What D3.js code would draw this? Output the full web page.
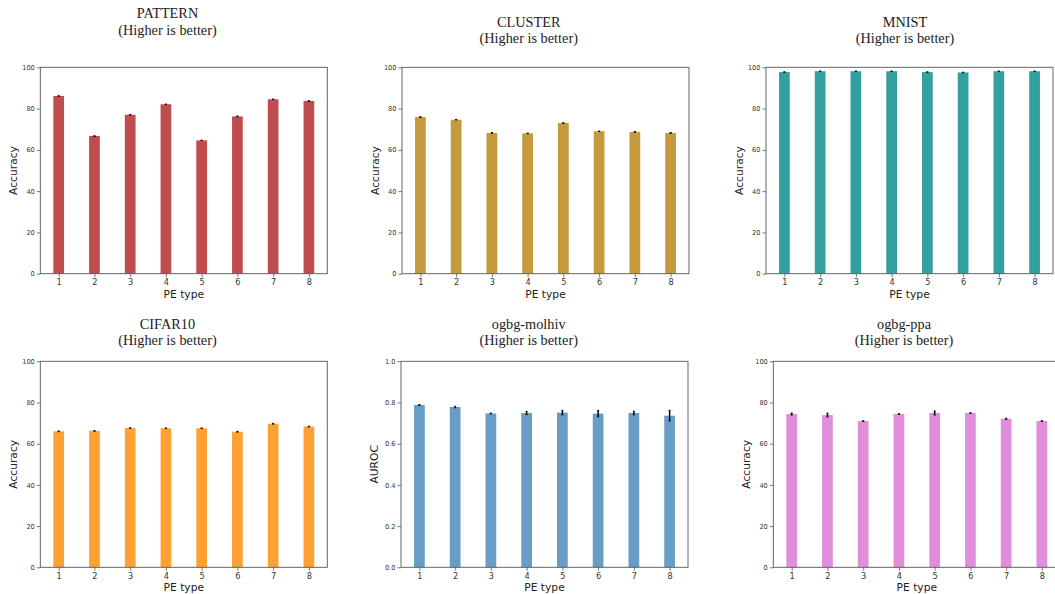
<!DOCTYPE html>
<html>
<head>
<meta charset="utf-8">
<script src="https://cdn.jsdelivr.net/npm/d3@7"></script>
<style>
  html, body { margin: 0; padding: 0; background: #fff; }
  svg { display: block; }
</style>
</head>
<body>
<svg id="chart" width="1055" height="594"></svg>
<script>
// Positional-encoding ablation: mean score (with std) per PE type, one panel per dataset.
const peTypes = [1, 2, 3, 4, 5, 6, 7, 8];

const patternMean = [86.1, 66.7, 77.0, 82.1, 64.6, 76.2, 84.5, 83.7];
const patternStd  = [0.15, 0.2, 0.15, 0.1, 0.1, 0.2, 0.15, 0.15];

const clusterMean = [75.9, 74.6, 68.2, 68.0, 73.0, 69.0, 68.7, 68.2];
const clusterStd  = [0.2, 0.15, 0.2, 0.15, 0.2, 0.1, 0.2, 0.2];

const mnistMean = [97.7, 98.1, 98.1, 98.1, 97.7, 97.5, 98.1, 98.1];
const mnistStd  = [0.15, 0.1, 0.1, 0.1, 0.15, 0.15, 0.1, 0.1];

const cifarMean = [66.0, 66.2, 67.6, 67.5, 67.5, 65.8, 69.7, 68.3];
const cifarStd  = [0.2, 0.2, 0.15, 0.15, 0.15, 0.2, 0.2, 0.2];

const molhivMean = [0.788, 0.778, 0.747, 0.749, 0.751, 0.746, 0.749, 0.736];
const molhivStd  = [0.002, 0.004, 0.002, 0.008, 0.011, 0.015, 0.009, 0.026];

const ppaMean = [74.4, 73.9, 71.0, 74.4, 74.9, 74.9, 72.1, 71.0];
const ppaStd  = [0.5, 0.9, 0.2, 0.2, 1.0, 0.15, 0.3, 0.2];

const accTicks = [0, 20, 40, 60, 80, 100];
const aucTicks = [0.0, 0.2, 0.4, 0.6, 0.8, 1.0];

// Panel layout: axes box, colours and title placement.
const panels = [
  { name: "PATTERN", mean: patternMean, std: patternStd, color: "#c04d4e", ylabel: "Accuracy",
    ymax: 100, ticks: accTicks, fmt: d3.format("d"),
    left: 40.3, top: 67.3, bottom: 273.7, titleX: 167.5, titleY: 18.3 },
  { name: "CLUSTER", mean: clusterMean, std: clusterStd, color: "#c49a3c", ylabel: "Accuracy",
    ymax: 100, ticks: accTicks, fmt: d3.format("d"),
    left: 402, top: 67.3, bottom: 273.7, titleX: 528.7, titleY: 26.6 },
  { name: "MNIST", mean: mnistMean, std: mnistStd, color: "#33a0a0", ylabel: "Accuracy",
    ymax: 100, ticks: accTicks, fmt: d3.format("d"),
    left: 766, top: 67.3, bottom: 273.7, titleX: 905, titleY: 26.6 },
  { name: "CIFAR10", mean: cifarMean, std: cifarStd, color: "#ffa033", ylabel: "Accuracy",
    ymax: 100, ticks: accTicks, fmt: d3.format("d"),
    left: 40.3, top: 361.3, bottom: 567.3, titleX: 167.5, titleY: 329 },
  { name: "ogbg-molhiv", mean: molhivMean, std: molhivStd, color: "#689dc6", ylabel: "AUROC",
    ymax: 1, ticks: aucTicks, fmt: d3.format(".1f"),
    left: 401, top: 361.3, bottom: 567.3, titleX: 528.7, titleY: 328.6 },
  { name: "ogbg-ppa", mean: ppaMean, std: ppaStd, color: "#e08edb", ylabel: "Accuracy",
    ymax: 100, ticks: accTicks, fmt: d3.format("d"),
    left: 773.3, top: 361.3, bottom: 567.3, titleX: 904, titleY: 328.6 }
];

const axesWidth = 287;
const barWidth = 0.3;
const spine = "#555";
const textDark = "#222";

const svg = d3.select("#chart");

panels.forEach(p => {
  const right = p.left + axesWidth;
  const x = d3.scaleLinear().domain([1 - barWidth / 2 - 0.365, 8 + barWidth / 2 + 0.365]).range([p.left, right]);
  const y = d3.scaleLinear().domain([0, p.ymax]).range([p.bottom, p.top]);
  const g = svg.append("g");
  const bw = x(1 + barWidth) - x(1);

  // bars
  g.selectAll("rect.bar").data(peTypes).join("rect")
    .attr("class", "bar")
    .attr("x", (d) => x(d) - bw / 2)
    .attr("width", bw)
    .attr("y", (d, i) => y(p.mean[i]))
    .attr("height", (d, i) => y(0) - y(p.mean[i]))
    .attr("fill", p.color);

  // error bars
  const eb = g.selectAll("g.err").data(peTypes).join("g").attr("class", "err");
  eb.append("line")
    .attr("x1", d => x(d)).attr("x2", d => x(d))
    .attr("y1", (d, i) => y(p.mean[i] - p.std[i]))
    .attr("y2", (d, i) => y(p.mean[i] + p.std[i]))
    .attr("stroke", "#000").attr("stroke-width", 1.5);
  [-1, 1].forEach(s => {
    eb.append("line")
      .attr("x1", d => x(d) - 1.1).attr("x2", d => x(d) + 1.1)
      .attr("y1", (d, i) => y(p.mean[i] + s * p.std[i]))
      .attr("y2", (d, i) => y(p.mean[i] + s * p.std[i]))
      .attr("stroke", "#000").attr("stroke-width", 0.8);
  });

  // axes
  const xAxis = d3.axisBottom(x).tickValues(peTypes).tickSize(3.5).tickPadding(2).tickFormat(d3.format("d"));
  const gx = g.append("g").attr("transform", `translate(0,${p.bottom})`).call(xAxis);
  gx.select(".domain").remove();
  gx.selectAll(".tick line").attr("stroke", spine).attr("stroke-width", 0.8);
  gx.selectAll(".tick text").attr("fill", "#333").attr("font-size", 8.2)
    .attr("font-family", "'DejaVu Sans', sans-serif");

  const yAxis = d3.axisLeft(y).tickValues(p.ticks).tickSize(3.5).tickPadding(2).tickFormat(p.fmt);
  const gy = g.append("g").attr("transform", `translate(${p.left},0)`).call(yAxis);
  gy.select(".domain").remove();
  gy.selectAll(".tick line").attr("stroke", spine).attr("stroke-width", 0.8);
  gy.selectAll(".tick text").attr("fill", "#333").attr("font-size", 6.6)
    .attr("font-family", "'DejaVu Sans', sans-serif");

  // frame
  g.append("rect")
    .attr("x", p.left).attr("y", p.top)
    .attr("width", axesWidth).attr("height", p.bottom - p.top)
    .attr("fill", "none").attr("stroke", spine).attr("stroke-width", 0.9);

  // axis labels
  g.append("text")
    .attr("x", (p.left + right) / 2).attr("y", p.bottom + 20.3)
    .attr("text-anchor", "middle").attr("dominant-baseline", "central")
    .attr("font-family", "'DejaVu Sans', sans-serif").attr("font-size", 10.7)
    .attr("fill", textDark).text("PE type");
  g.append("text")
    .attr("transform", `translate(${p.left - 27},${(p.top + p.bottom) / 2}) rotate(-90)`)
    .attr("text-anchor", "middle").attr("dominant-baseline", "central")
    .attr("font-family", "'DejaVu Sans', sans-serif").attr("font-size", 10.7)
    .attr("fill", textDark).text(p.ylabel);

  // title
  const t = g.append("text")
    .attr("text-anchor", "middle")
    .attr("font-family", "'Liberation Serif', 'Times New Roman', serif")
    .attr("font-size", 14.3).attr("fill", textDark);
  t.append("tspan").attr("x", p.titleX).attr("y", p.titleY).text(p.name);
  t.append("tspan").attr("x", p.titleX).attr("y", p.titleY + 16.2).text("(Higher is better)");
});
</script>
</body>
</html>
